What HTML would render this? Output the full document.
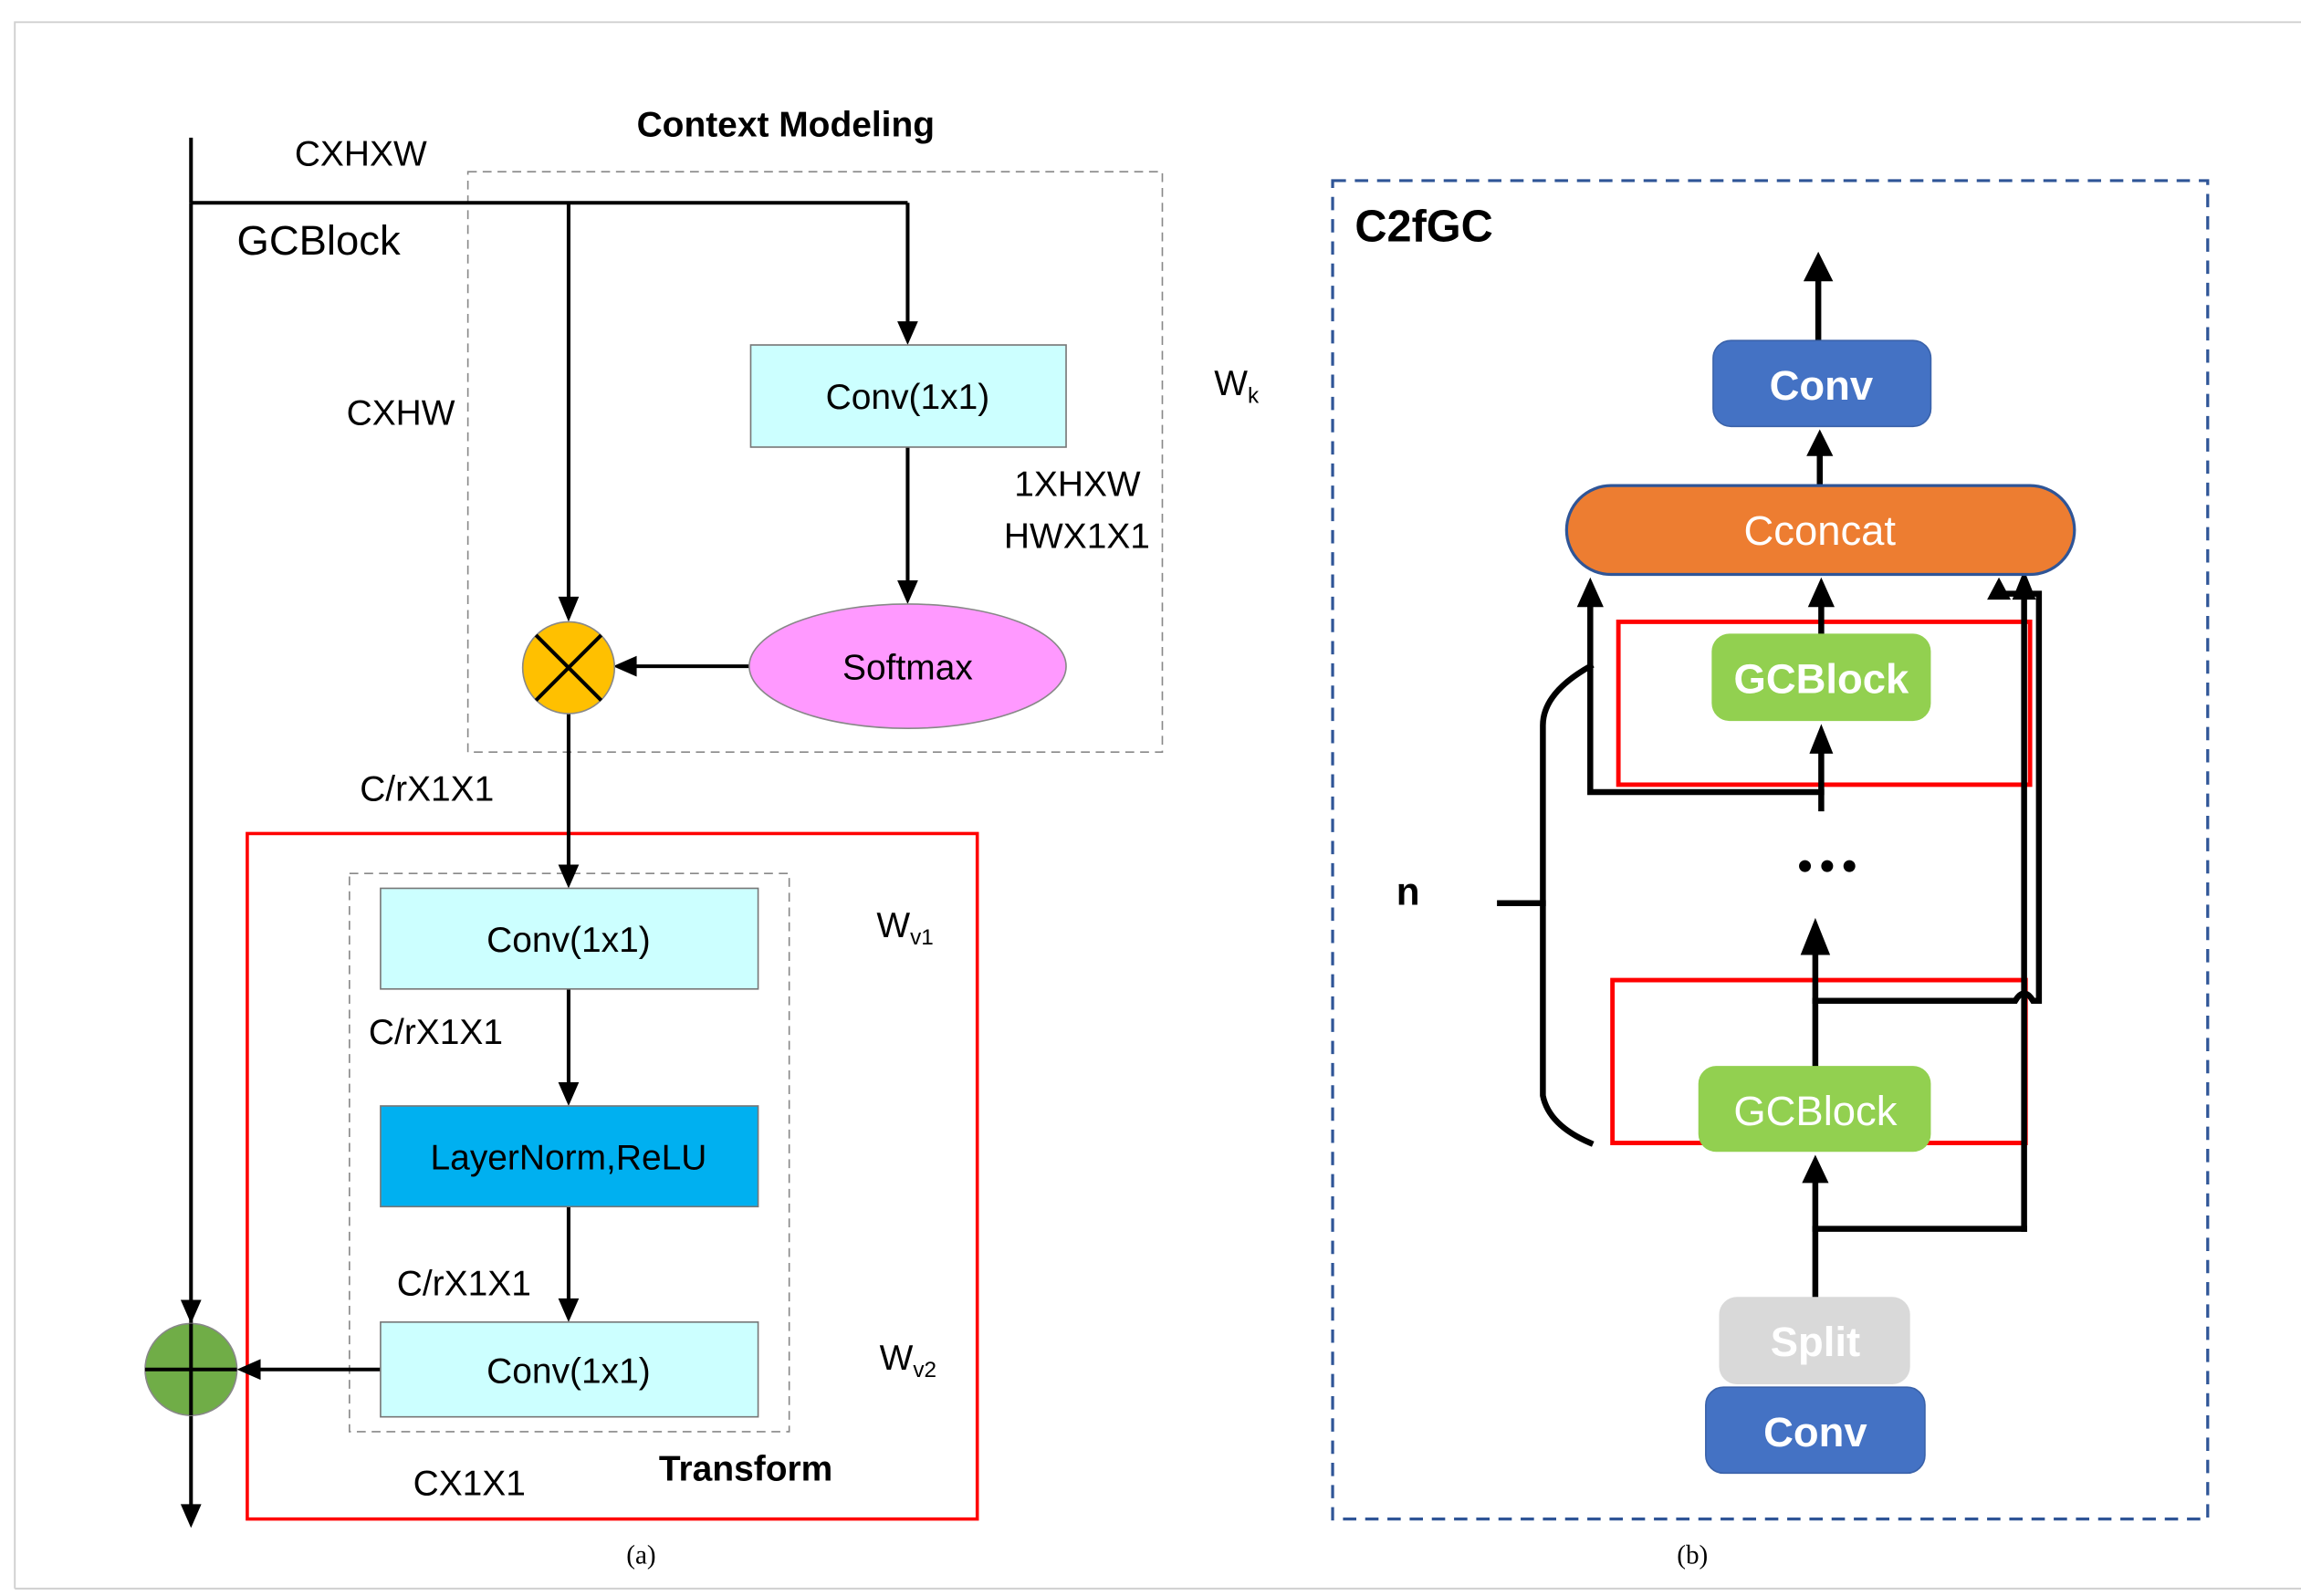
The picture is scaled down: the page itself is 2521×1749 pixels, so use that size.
<!DOCTYPE html>
<html><head><meta charset="utf-8"><style>
html,body{margin:0;padding:0;background:#fff;}
svg{display:block;}
text{font-family:"Liberation Sans","DejaVu Sans",sans-serif;}
</style></head><body>
<svg width="2521" height="1749" viewBox="0 0 1554 1078" preserveAspectRatio="none" xmlns="http://www.w3.org/2000/svg">
<!-- frame -->
<path d="M10,1073 V15 H1554" fill="none" stroke="#d0d0d0" stroke-width="1.2"/>
<line x1="10" y1="1073" x2="1554" y2="1073" stroke="#d0d0d0" stroke-width="1.2"/>

<!-- LEFT (a) -->
<rect x="316" y="116" width="469" height="392" fill="none" stroke="#888" stroke-width="1" stroke-dasharray="6,4"/>
<rect x="167" y="563" width="493" height="463" fill="none" stroke="#f00" stroke-width="2.2"/>
<rect x="236" y="590" width="297" height="377" fill="none" stroke="#888" stroke-width="1" stroke-dasharray="6,4"/>

<g stroke="#000" stroke-width="2.5" fill="none">
<line x1="129" y1="93" x2="129" y2="137"/>
<line x1="129" y1="137" x2="613" y2="137"/>
<line x1="613" y1="137" x2="613" y2="225"/>
<line x1="384" y1="137" x2="384" y2="412"/>
<line x1="613" y1="302" x2="613" y2="400"/>
<line x1="507" y1="450" x2="422" y2="450"/>
<line x1="384" y1="482" x2="384" y2="592"/>
<line x1="384" y1="668" x2="384" y2="740"/>
<line x1="384" y1="815" x2="384" y2="886"/>
<line x1="257" y1="925" x2="167" y2="925"/>
<line x1="129" y1="137" x2="129" y2="1022"/>
</g>
<g fill="#000">
<path d="M606,217 L620,217 L613,233 z"/>
<path d="M377,403 L391,403 L384,420 z"/>
<path d="M606,392 L620,392 L613,408 z"/>
<path d="M430,443 L430,457 L414,450 z"/>
<path d="M377,584 L391,584 L384,600 z"/>
<path d="M377,731 L391,731 L384,747 z"/>
<path d="M377,877 L391,877 L384,893 z"/>
<path d="M176,918 L176,932 L160,925 z"/>
<path d="M122,878 L136,878 L129,894 z"/>
<path d="M122,1016 L136,1016 L129,1032 z"/>
</g>

<rect x="507" y="233" width="213" height="69" fill="#ccffff" stroke="#777" stroke-width="1"/>
<text x="613" y="276" font-size="24" text-anchor="middle">Conv(1x1)</text>
<ellipse cx="613" cy="450" rx="107" ry="42" fill="#ff99ff" stroke="#888" stroke-width="1"/>
<text x="613" y="459" font-size="24" text-anchor="middle">Softmax</text>
<circle cx="384" cy="451" r="31" fill="#ffc000" stroke="#888" stroke-width="1"/>
<path d="M362,429 L406,473 M406,429 L362,473" stroke="#000" stroke-width="2.5"/>

<rect x="257" y="600" width="255" height="68" fill="#ccffff" stroke="#777" stroke-width="1"/>
<text x="384" y="643" font-size="24" text-anchor="middle">Conv(1x1)</text>
<rect x="257" y="747" width="255" height="68" fill="#00b0f0" stroke="#777" stroke-width="1"/>
<text x="384" y="790" font-size="24" text-anchor="middle">LayerNorm,ReLU</text>
<rect x="257" y="893" width="255" height="64" fill="#ccffff" stroke="#777" stroke-width="1"/>
<text x="384" y="934" font-size="24" text-anchor="middle">Conv(1x1)</text>
<circle cx="129" cy="925" r="31" fill="#70ad47" stroke="#888" stroke-width="1"/>
<path d="M98,925 H160 M129,894 V956" stroke="#000" stroke-width="2.5"/>

<g font-size="24">
<text x="199" y="112">CXHXW</text>
<text x="160" y="172" font-size="28">GCBlock</text>
<text x="234" y="287">CXHW</text>
<text x="820" y="267">W<tspan font-size="15" dy="5">k</tspan></text>
<text x="685" y="335">1XHXW</text>
<text x="678" y="370">HWX1X1</text>
<text x="243" y="541">C/rX1X1</text>
<text x="592" y="633">W<tspan font-size="15" dy="5">v1</tspan></text>
<text x="249" y="705">C/rX1X1</text>
<text x="268" y="875">C/rX1X1</text>
<text x="594" y="925">W<tspan font-size="15" dy="5">v2</tspan></text>
<text x="279" y="1010">CX1X1</text>
</g>
<text x="430" y="92" font-size="24" font-weight="bold">Context  Modeling</text>
<text x="445" y="1000" font-size="24" font-weight="bold">Transform</text>
<text x="433" y="1056" font-size="18" text-anchor="middle" style="font-family:'Liberation Serif',serif">(a)</text>
<text x="1143" y="1056" font-size="18" text-anchor="middle" style="font-family:'Liberation Serif',serif">(b)</text>

<!-- RIGHT (b) -->
<rect x="900" y="122" width="591" height="904" fill="none" stroke="#2f5597" stroke-width="2" stroke-dasharray="9,6"/>
<text x="915" y="163" font-size="30" font-weight="bold">C2fGC</text>

<rect x="1093" y="420" width="278" height="110" fill="none" stroke="#f00" stroke-width="3"/>
<rect x="1089" y="662" width="279" height="110" fill="none" stroke="#f00" stroke-width="3"/>

<g stroke="#000" stroke-width="4" fill="none" stroke-linecap="square">
<line x1="1228" y1="230" x2="1228" y2="186"/>
<line x1="1229" y1="328" x2="1229" y2="305"/>
<line x1="1230" y1="428" x2="1230" y2="405"/>
<line x1="1230" y1="546" x2="1230" y2="505"/>
<polyline points="1230,535 1074,535 1074,405"/>
<line x1="1226" y1="720" x2="1226" y2="636"/>
<line x1="1226" y1="875" x2="1226" y2="795"/>
<line x1="1226" y1="830" x2="1367" y2="830"/>
<line x1="1367" y1="830" x2="1367" y2="402"/>
<path d="M1226,676 H1361 Q1367,666 1373,676 H1377 V401 H1352"/>
<path d="M1074,450 Q1042,468 1042,490 V740 Q1046,760 1074,772"/>
<line x1="1013" y1="610" x2="1042" y2="610"/>
</g>
<g fill="#000">
<path d="M1218,190 L1238,190 L1228,170 z"/>
<path d="M1220,308 L1238,308 L1229,290 z"/>
<path d="M1221,410 L1239,410 L1230,390 z"/>
<path d="M1222,509 L1238,509 L1230,489 z"/>
<path d="M1065,410 L1083,410 L1074,390 z"/>
<path d="M1216,645 L1236,645 L1226,620 z"/>
<path d="M1217,799 L1235,799 L1226,780 z"/>
<path d="M1359,405 L1375,405 L1367,385 z"/>
<path d="M1342,405 L1358,405 L1350,390 z"/>
</g>

<rect x="1157" y="230" width="147" height="58" rx="12" fill="#4472c4" stroke="#3a62aa" stroke-width="1"/>
<text x="1230" y="270" font-size="28" font-weight="bold" fill="#fff" text-anchor="middle">Conv</text>
<rect x="1058" y="328" width="343" height="60" rx="30" fill="#ed7d31" stroke="#2f5597" stroke-width="2"/>
<text x="1229" y="368" font-size="28" fill="#fff" text-anchor="middle">Cconcat</text>
<rect x="1156" y="428" width="148" height="59" rx="12" fill="#92d050"/>
<text x="1230" y="468" font-size="28" font-weight="bold" fill="#fff" text-anchor="middle">GCBlock</text>
<rect x="1147" y="720" width="157" height="58" rx="12" fill="#92d050"/>
<text x="1226" y="760" font-size="28" fill="#fff" text-anchor="middle">GCBlock</text>
<rect x="1161" y="876" width="129" height="59" rx="12" fill="#d9d9d9"/>
<text x="1226" y="916" font-size="28" font-weight="bold" fill="#fff" text-anchor="middle">Split</text>
<rect x="1152" y="937" width="148" height="58" rx="12" fill="#4472c4" stroke="#3a62aa" stroke-width="1"/>
<text x="1226" y="977" font-size="28" font-weight="bold" fill="#fff" text-anchor="middle">Conv</text>

<g fill="#000"><circle cx="1219" cy="585" r="4"/><circle cx="1234" cy="585" r="4"/><circle cx="1249" cy="585" r="4"/></g>
<text x="943" y="611" font-size="26" font-weight="bold">n</text>
</svg>
</body></html>
